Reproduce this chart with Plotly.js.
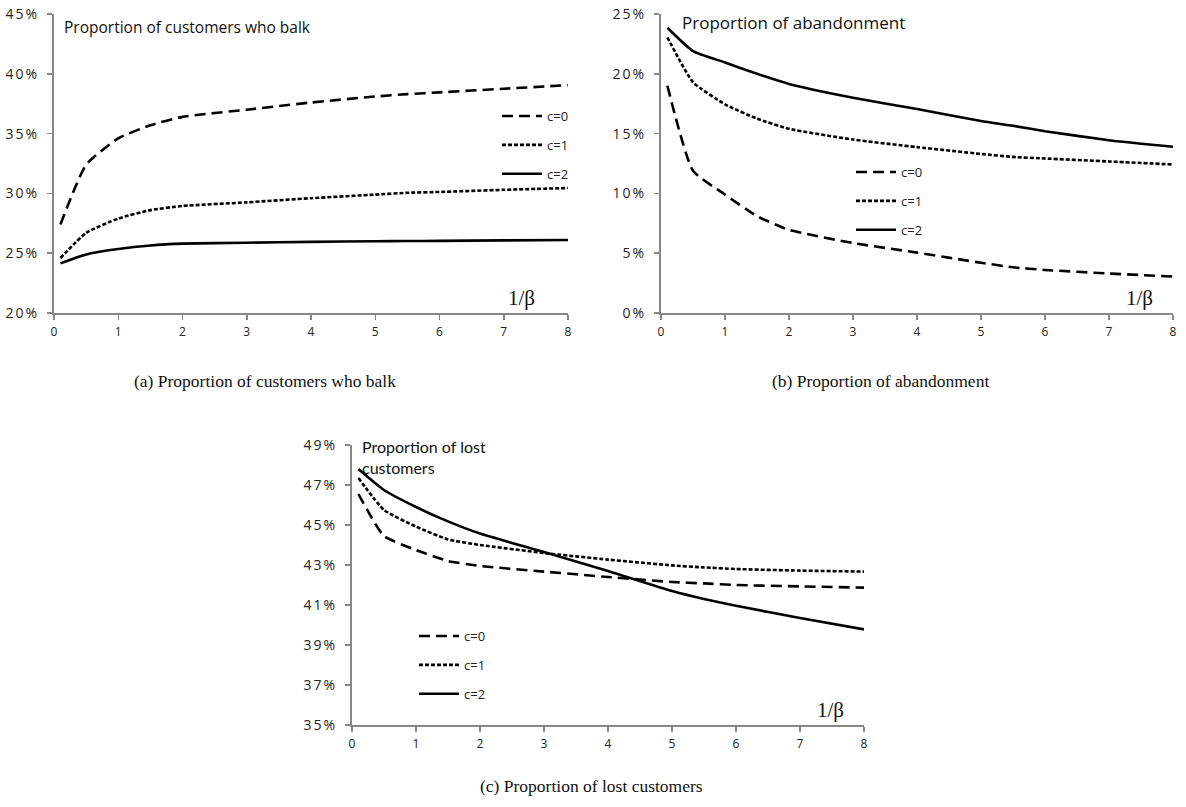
<!DOCTYPE html>
<html>
<head>
<meta charset="utf-8">
<script src="https://cdn.plot.ly/plotly-3.0.1.min.js"></script>
<style>
html,body{margin:0;padding:0;background:#fff;}
#chart{width:1186px;height:807px;}
#chart g.ytick text, #chart g.y2tick text, #chart g.y3tick text{letter-spacing:2px;}
</style>
</head>
<body>
<div id="chart"></div>
<script>
// x values: 1/beta
const xVals = [0.1, 0.5, 1, 1.5, 2, 3, 4, 5, 5.5, 6, 7, 8];
const seriesNames = ['c=0', 'c=1', 'c=2'];

// (a) Proportion of customers who balk (%)
const balkC0 = [27.4, 32.4, 34.6, 35.7, 36.4, 37.0, 37.6, 38.1, 38.3, 38.45, 38.75, 39.05];
const balkC1 = [24.6, 26.7, 27.9, 28.6, 28.95, 29.25, 29.6, 29.9, 30.05, 30.12, 30.3, 30.45];
const balkC2 = [24.15, 24.9, 25.35, 25.65, 25.8, 25.88, 25.95, 26.0, 26.02, 26.03, 26.07, 26.1];

// (b) Proportion of abandonment (%)
const abanC0 = [19.0, 11.9, 9.9, 8.1, 6.95, 5.85, 5.05, 4.2, 3.82, 3.6, 3.3, 3.05];
const abanC1 = [23.05, 19.3, 17.45, 16.25, 15.4, 14.5, 13.87, 13.3, 13.05, 12.92, 12.67, 12.42];
const abanC2 = [23.85, 21.9, 20.95, 20.0, 19.15, 18.0, 17.05, 16.05, 15.65, 15.2, 14.45, 13.9];

// (c) Proportion of lost customers (%)
const lostC0 = [46.55, 44.45, 43.75, 43.2, 42.95, 42.67, 42.4, 42.15, 42.08, 42.0, 41.93, 41.87];
const lostC1 = [47.35, 45.75, 44.92, 44.28, 44.0, 43.6, 43.27, 42.98, 42.88, 42.8, 42.72, 42.67];
const lostC2 = [47.8, 46.75, 45.9, 45.18, 44.57, 43.65, 42.7, 41.7, 41.3, 40.96, 40.35, 39.78];

const dashes = ['11px,6px', '4px,2px', 'solid'];
const FONT = '"Open Sans", Lato, sans-serif';
const FONT2 = 'Lato, "Open Sans", sans-serif';
const SERIF = '"Liberation Serif", "DejaVu Serif", serif';

function mk(y, i, xa, ya, leg) {
  return {
    x: xVals, y: y, type: 'scatter', mode: 'lines', name: seriesNames[i],
    xaxis: xa, yaxis: ya, legend: leg, legendgroup: leg + i,
    line: {color: '#000', width: 2.6, dash: dashes[i], shape: 'spline', smoothing: 0.5}
  };
}

const traces = [
  mk(balkC0, 0, 'x', 'y', 'legend'), mk(balkC1, 1, 'x', 'y', 'legend'), mk(balkC2, 2, 'x', 'y', 'legend'),
  mk(abanC0, 0, 'x2', 'y2', 'legend2'), mk(abanC1, 1, 'x2', 'y2', 'legend2'), mk(abanC2, 2, 'x2', 'y2', 'legend2'),
  mk(lostC0, 0, 'x3', 'y3', 'legend3'), mk(lostC1, 1, 'x3', 'y3', 'legend3'), mk(lostC2, 2, 'x3', 'y3', 'legend3')
];

const axCommon = {
  showgrid: false, zeroline: false, showline: true, linecolor: '#888', linewidth: 2,
  ticks: 'outside', ticklen: 5, tickwidth: 1.5, tickcolor: '#888', fixedrange: true
};
function xax(domain, anchor) {
  return Object.assign({}, axCommon, {domain: domain, anchor: anchor, range: [0, 8], dtick: 1, tick0: 0, ticklabelstandoff: 2,
    tickfont: {family: FONT, size: 12, color: '#222'}});
}
function yax(domain, anchor, range, dtick) {
  return Object.assign({}, axCommon, {domain: domain, anchor: anchor, range: range, dtick: dtick, tick0: range[0], ticksuffix: '%', ticklabelstandoff: 5,
    tickfont: {family: FONT, size: 14, color: '#222'}});
}

const W = 1186, H = 807;
const px = v => v / W, py = v => 1 - v / H;

function leg(xl, ytop) {
  return {x: px(xl), y: py(ytop), xanchor: 'left', yanchor: 'top', bgcolor: 'rgba(0,0,0,0)',
    font: {family: FONT, size: 13, color: '#222'}, tracegroupgap: 9, itemwidth: 40, borderwidth: 0};
}

const layout = {
  width: W, height: H, margin: {l: 0, r: 0, t: 0, b: 0},
  paper_bgcolor: '#fff', plot_bgcolor: '#fff', showlegend: true,
  xaxis: xax([px(54), px(568)], 'y'),
  yaxis: yax([py(313), py(14)], 'x', [20, 45], 5),
  xaxis2: xax([px(661), px(1173)], 'y2'),
  yaxis2: yax([py(313), py(14)], 'x2', [0, 25], 5),
  xaxis3: xax([px(352), px(864)], 'y3'),
  yaxis3: yax([py(725), py(445)], 'x3', [35, 49], 2),
  legend: leg(497, 101),
  legend2: leg(851, 157),
  legend3: leg(414, 621),
  annotations: [
    {text: 'Proportion of customers who balk', xref: 'paper', yref: 'paper', x: px(62), y: py(27), xanchor: 'left', yanchor: 'middle', showarrow: false, font: {family: FONT, size: 15.5, color: '#111'}},
    {text: 'Proportion of abandonment', xref: 'paper', yref: 'paper', x: px(680), y: py(22), xanchor: 'left', yanchor: 'middle', showarrow: false, font: {family: FONT, size: 17, color: '#111'}},
    {text: 'Proportion of lost<br>customers', xref: 'paper', yref: 'paper', x: px(360), y: py(457), xanchor: 'left', yanchor: 'middle', align: 'left', showarrow: false, font: {family: FONT2, size: 16, color: '#111'}},
    {text: '1/β', xref: 'paper', yref: 'paper', x: px(521), y: py(298), xanchor: 'center', yanchor: 'middle', showarrow: false, font: {family: SERIF, size: 21, color: '#111'}},
    {text: '1/β', xref: 'paper', yref: 'paper', x: px(1139), y: py(298), xanchor: 'center', yanchor: 'middle', showarrow: false, font: {family: SERIF, size: 21, color: '#111'}},
    {text: '1/β', xref: 'paper', yref: 'paper', x: px(830), y: py(710), xanchor: 'center', yanchor: 'middle', showarrow: false, font: {family: SERIF, size: 21, color: '#111'}},
    {text: '(a) Proportion of customers who balk', xref: 'paper', yref: 'paper', x: px(265), y: py(381), xanchor: 'center', yanchor: 'middle', showarrow: false, font: {family: SERIF, size: 17.5, color: '#111'}},
    {text: '(b) Proportion of abandonment', xref: 'paper', yref: 'paper', x: px(880), y: py(381), xanchor: 'center', yanchor: 'middle', showarrow: false, font: {family: SERIF, size: 17.5, color: '#111'}},
    {text: '(c) Proportion of lost customers', xref: 'paper', yref: 'paper', x: px(591), y: py(786), xanchor: 'center', yanchor: 'middle', showarrow: false, font: {family: SERIF, size: 17.5, color: '#111'}}
  ]
};

Plotly.newPlot('chart', traces, layout, {displayModeBar: false, staticPlot: true});
</script>
</body>
</html>
